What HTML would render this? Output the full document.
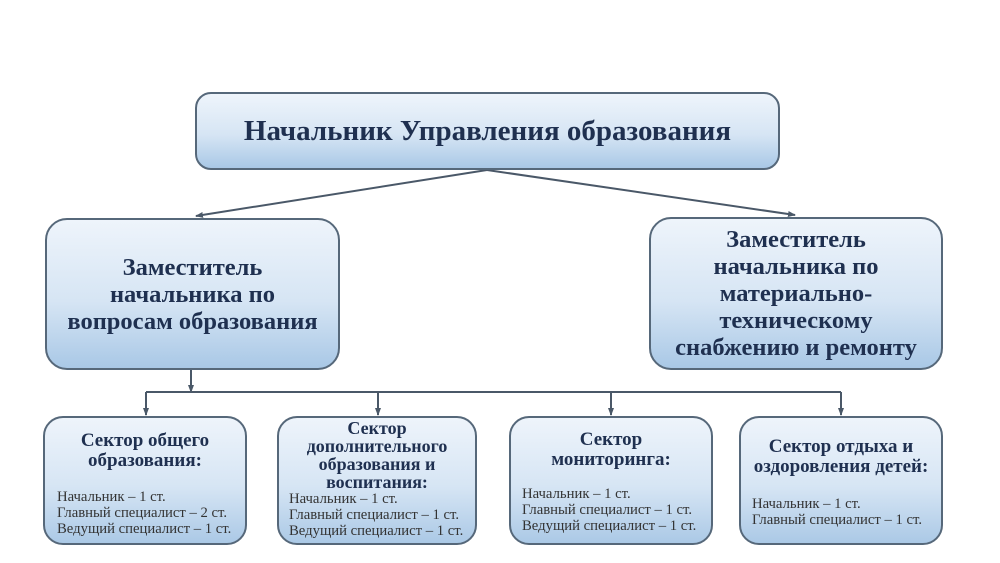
<!DOCTYPE html>
<html><head><meta charset="utf-8"><style>
body{margin:0;width:1000px;height:563px;background:#fff;position:relative;overflow:hidden;font-family:"Liberation Serif",serif;color:#1f3050}
.b{position:absolute;box-sizing:border-box;border:2px solid #56687a;border-radius:22px;background:linear-gradient(#eef4fb,#d6e5f4 55%,#a9c8e6);display:flex;flex-direction:column;justify-content:center;align-items:center;text-align:center;font-weight:bold}
.s{position:absolute;box-sizing:border-box;border:2px solid #56687a;border-radius:20px;background:linear-gradient(#eef4fb,#d6e5f4 55%,#abc9e6);}
.s h{display:block;text-align:center;font-weight:bold;font-size:19px;line-height:20px}
.s p{margin:0;font-size:14.7px;line-height:16px;color:#333;white-space:nowrap}
</style></head><body>
<svg width="1000" height="563" style="position:absolute;left:0;top:0">
<defs><marker id="a" markerWidth="8" markerHeight="8" refX="7" refY="4" orient="auto" markerUnits="userSpaceOnUse"><path d="M0,1 L8,4 L0,7z" fill="#4a5868"/></marker></defs>
<g stroke="#4a5868" stroke-width="2" fill="none">
<line x1="487" y1="170" x2="196" y2="216" marker-end="url(#a)"/>
<line x1="487" y1="170" x2="795" y2="215" marker-end="url(#a)"/>
<line x1="191" y1="370" x2="191" y2="392" marker-end="url(#a)"/>
<line x1="146" y1="392" x2="841" y2="392"/>
<line x1="146" y1="392" x2="146" y2="415" marker-end="url(#a)"/>
<line x1="378" y1="392" x2="378" y2="415" marker-end="url(#a)"/>
<line x1="611" y1="392" x2="611" y2="415" marker-end="url(#a)"/>
<line x1="841" y1="392" x2="841" y2="415" marker-end="url(#a)"/>
</g></svg>
<div class="b" style="left:195px;top:92px;width:585px;height:78px;border-radius:16px;font-size:29px">Начальник Управления образования</div>
<div class="b" style="left:45px;top:218px;width:295px;height:152px;font-size:24.5px;line-height:27px">Заместитель<br>начальника по<br>вопросам образования</div>
<div class="b" style="left:649px;top:217px;width:294px;height:153px;font-size:24.5px;line-height:27px">Заместитель<br>начальника по<br>материально-<br>техническому<br>снабжению и ремонту</div>
<div class="s" style="left:43px;top:416px;width:204px;height:129px;padding:13px 0 0 12px"><h style="margin-left:-12px">Сектор общего<br>образования:</h><p style="margin-top:18px">Начальник – 1 ст.<br>Главный специалист – 2 ст.<br>Ведущий специалист – 1 ст.</p></div>
<div class="s" style="left:277px;top:416px;width:200px;height:129px;padding:1px 0 0 10px"><h style="margin-left:-10px;font-size:18px;line-height:18px">Сектор<br>дополнительного<br>образования и<br>воспитания:</h><p>Начальник – 1 ст.<br>Главный специалист – 1 ст.<br>Ведущий специалист – 1 ст.</p></div>
<div class="s" style="left:509px;top:416px;width:204px;height:129px;padding:12px 0 0 11px"><h style="margin-left:-11px">Сектор<br>мониторинга:</h><p style="margin-top:16px">Начальник – 1 ст.<br>Главный специалист – 1 ст.<br>Ведущий специалист – 1 ст.</p></div>
<div class="s" style="left:739px;top:416px;width:204px;height:129px;padding:19px 0 0 11px"><h style="margin-left:-11px">Сектор отдыха и<br>оздоровления детей:</h><p style="margin-top:19px">Начальник – 1 ст.<br>Главный специалист – 1 ст.</p></div>
</body></html>
